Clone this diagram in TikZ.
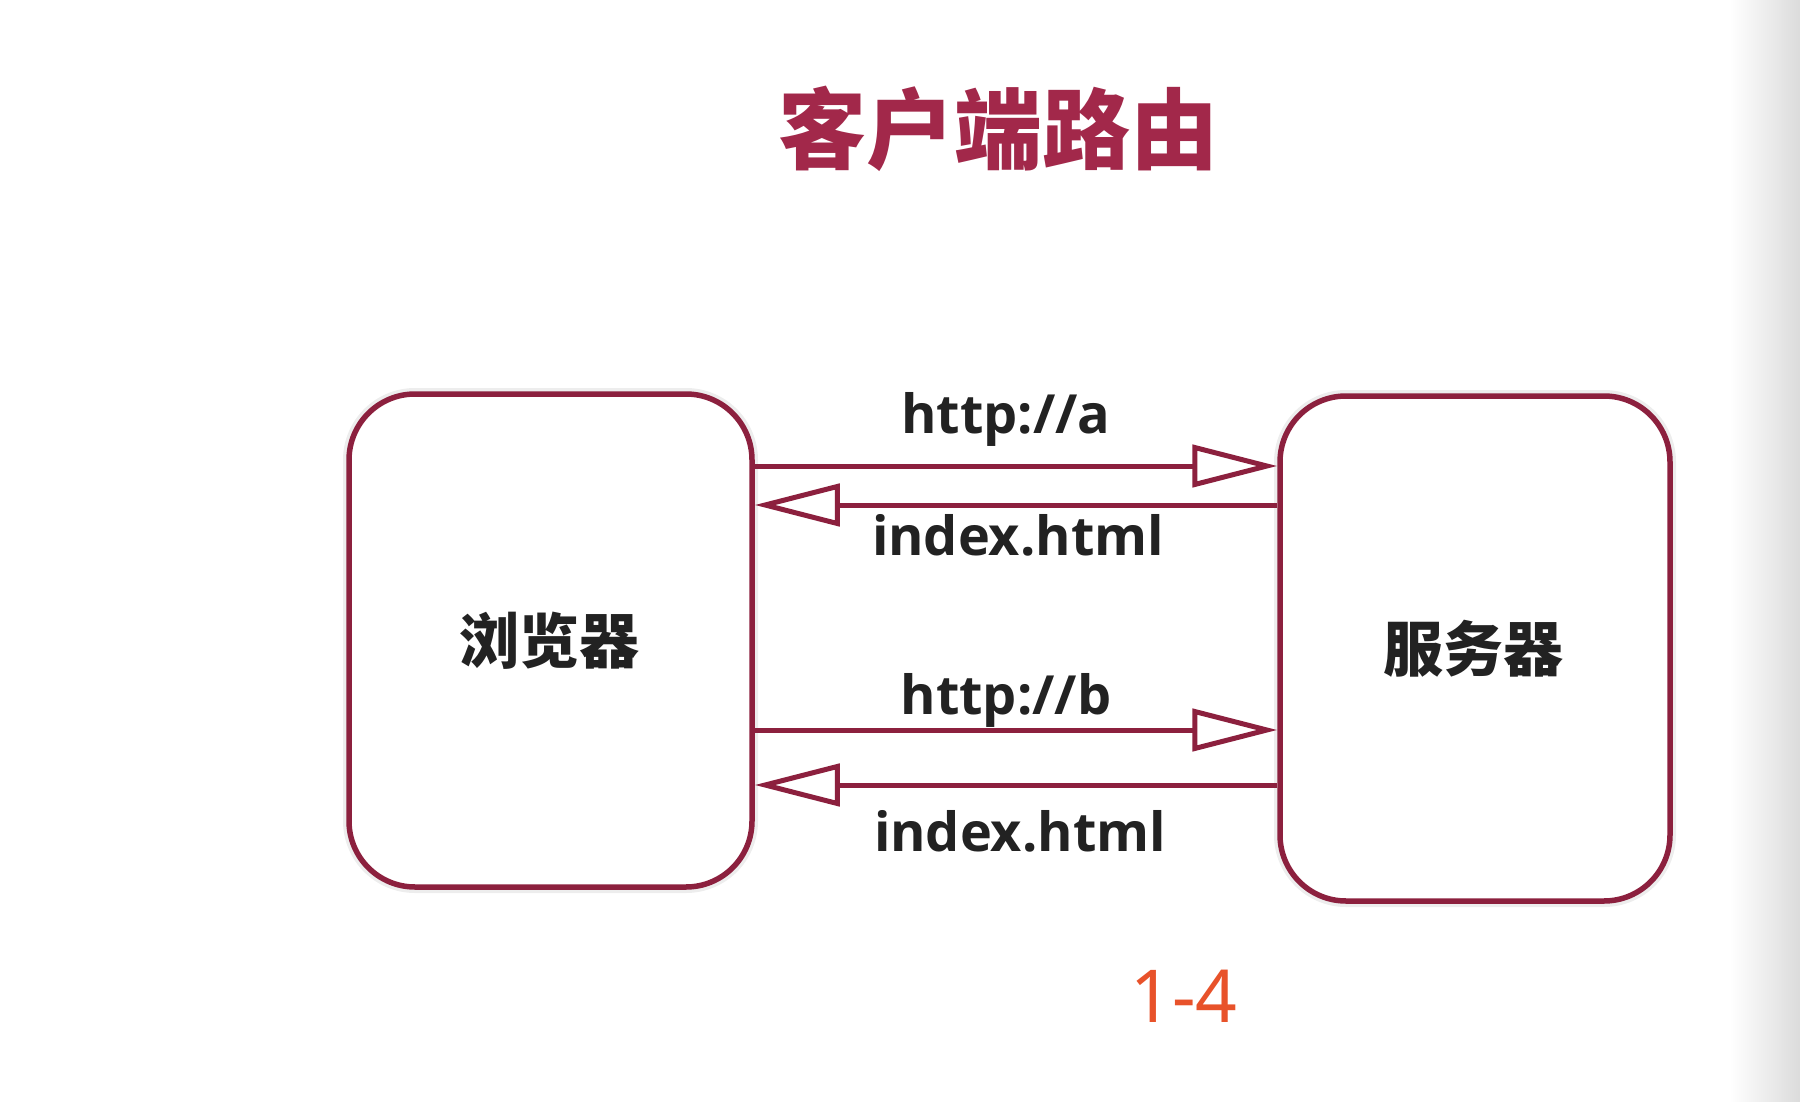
\documentclass[tikz,border=0pt]{standalone}
\usepackage{fontspec}
\setmainfont{Open Sans}
\newfontfamily\cjk{Noto Sans CJK SC}
\newfontfamily\numfont{Noto Sans}
\usetikzlibrary{arrows.meta,positioning}
\definecolor{boxred}{RGB}{140,32,62}
\definecolor{titlered}{RGB}{162,40,74}
\definecolor{textdark}{RGB}{34,34,34}
\definecolor{tagorange}{RGB}{232,82,42}
\tikzset{
  endpoint/.style={draw=boxred, line width=5.5pt, fill=white, rounded corners=66pt,
    rectangle, inner sep=0pt,
    preaction={draw=black, draw opacity=0.07, line width=12pt}},
  msg/.style={draw=boxred, line width=5pt,
    -{Triangle[length=85pt, width=42pt, fill=white, line width=5pt]}},
  msglabel/.style={anchor=base, text=textdark, inner sep=0pt,
    font=\bfseries\fontsize{54}{60}\selectfont},
  boxlabel/.style={anchor=base, text=textdark, inner sep=0pt,
    font=\cjk\bfseries\fontsize{60}{66}\selectfont},
}
\begin{document}
\begin{tikzpicture}[x=1pt, y=-1pt]
  % canvas and the soft grey edge on the right
  \useasboundingbox (0,0) rectangle (1800,1102);
  \fill[white] (0,0) rectangle (1800,1102);
  \shade[left color=white, right color=black!14] (1730,0) rectangle (1800,1102);

  % title
  \node[anchor=base, text=titlered, inner sep=0pt,
        font=\cjk\bfseries\fontsize{88}{96}\selectfont] (title) at (998,163) {客户端路由};

  % browser and server
  \node[endpoint, minimum width=403pt, minimum height=493pt] (browser) at (550.5,640.5) {};
  \node[endpoint, minimum width=390pt, minimum height=505pt] (server) at (1475,648.5) {};
  \node[boxlabel] (browserlabel) at (549,663) {浏览器};
  \node[boxlabel] (serverlabel) at (1473,671) {服务器};

  % requests and responses
  \draw[msg] (browser.east |- 0,466) -- (server.west |- 0,466);
  \draw[msg] (server.west |- 0,505) -- (browser.east |- 0,505);
  \draw[msg] (browser.east |- 0,730) -- (server.west |- 0,730);
  \draw[msg] (server.west |- 0,785) -- (browser.east |- 0,785);

  \node[msglabel] (reqa) at (1006,433) {http://a};
  \node[msglabel] (resa) at (1018,555) {index.html};
  \node[msglabel] (reqb) at (1006,714) {http://b};
  \node[msglabel] (resb) at (1020,851) {index.html};

  % slide number
  \node[anchor=base, text=tagorange, inner sep=0pt,
        font=\numfont\fontsize{73}{80}\selectfont] (tag) at (1184,1022) {1-4};
\end{tikzpicture}
\end{document}
